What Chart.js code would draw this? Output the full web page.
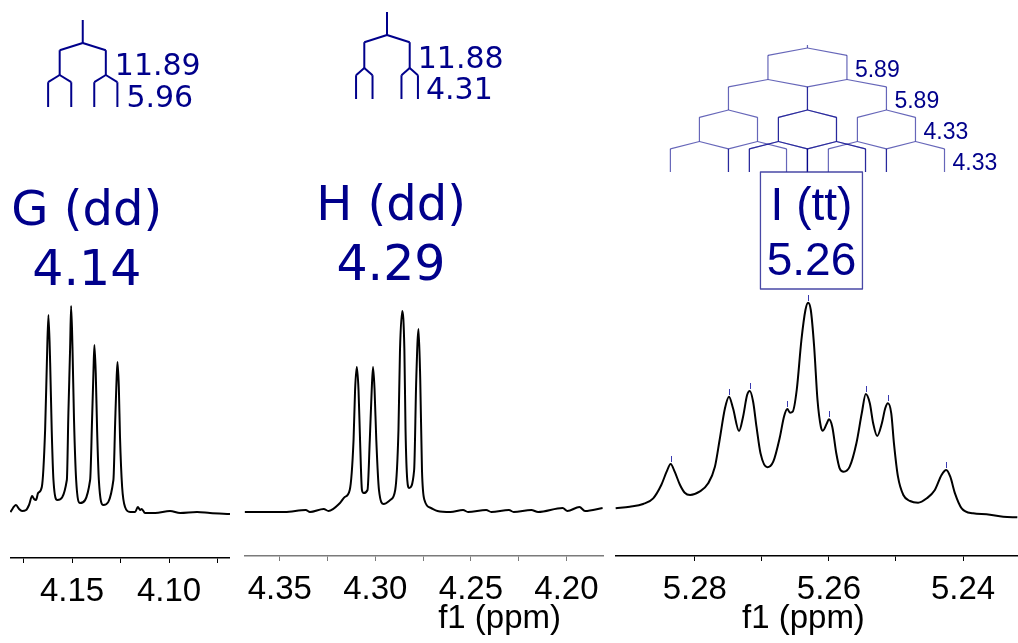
<!DOCTYPE html>
<html>
<head>
<meta charset="utf-8">
<style>
html, body { margin: 0; padding: 0; background: #fff; }
#wrap { position: relative; width: 1018px; height: 643px; overflow: hidden; }
#wrap canvas { position: absolute; top: 0; }
</style>
<script src="https://cdn.jsdelivr.net/npm/chart.js@4/dist/chart.umd.min.js"></script>
</head>
<body>
<div id="wrap">
  <canvas id="panelG" width="220" height="643" style="left:10px"></canvas>
  <canvas id="panelH" width="368" height="643" style="left:239px"></canvas>
  <canvas id="panelI" width="403" height="643" style="left:615px"></canvas>
</div>
<script>
// spectrometer frequency (MHz), used to turn J (Hz) into ppm
const MHZ = 500;

// G (dd) - 4.14 ppm
const gPpm = [4.1818, 4.1789, 4.1773, 4.1758, 4.1737, 4.1722, 4.1706, 4.1696, 4.1686, 4.1675,
  4.1656, 4.1639, 4.1630, 4.1622, 4.1613, 4.1605, 4.1596, 4.1576, 4.1527, 4.1519,
  4.1510, 4.1505, 4.1498, 4.1490, 4.1479, 4.1459, 4.1407, 4.1397, 4.1390, 4.1385,
  4.1378, 4.1371, 4.1362, 4.1339, 4.1287, 4.1278, 4.1272, 4.1266, 4.1259, 4.1253,
  4.1242, 4.1227, 4.1201, 4.1175, 4.1161, 4.1149, 4.1141, 4.1124, 4.1072, 4.0995,
  4.0943, 4.0856, 4.0789, 4.0686];
const gInt = [1, 8, 4, 2, 3, 8, 17, 14, 13, 20,
  26, 83, 150, 198, 150, 83, 33, 13, 33, 100,
  166, 207, 166, 93, 33, 10, 33, 93, 140, 168,
  140, 83, 33, 8, 33, 90, 126, 151, 126, 76,
  26, 6, 1, 1, 6, 3, 4, 0, 0, 2,
  0, 1, 0, -1];
const gTicks = [4.175, 4.15, 4.125, 4.10, 4.075];
const gTickLabels = ['4.15', '4.10'];
const gCenter = 4.1445;
const gJ = [11.89, 5.96];

// H (dd) - 4.29 ppm
const hPpm = [4.3684, 4.3577, 4.3474, 4.3364, 4.3342, 4.3270, 4.3245, 4.3185, 4.3160, 4.3134,
  4.3114, 4.3106, 4.3097, 4.3088, 4.3080, 4.3070, 4.3061, 4.3041, 4.3029, 4.3019,
  4.3012, 4.3004, 4.2995, 4.2981, 4.2956, 4.2922, 4.2896, 4.2879, 4.2871, 4.2859,
  4.2848, 4.2842, 4.2833, 4.2823, 4.2797, 4.2786, 4.2774, 4.2765, 4.2756, 4.2743,
  4.2709, 4.2675, 4.2607, 4.2541, 4.2515, 4.2420, 4.2393, 4.2301, 4.2276, 4.2184,
  4.2148, 4.2020, 4.1995, 4.1932, 4.1903, 4.1811];
const hInt = [0, 0, 0, 2, 0, 3, 1, 9, 15, 22,
  72, 122, 145, 122, 72, 22, 19, 22, 72, 122,
  145, 122, 72, 22, 8, 12, 22, 82, 162, 201,
  162, 82, 32, 24, 42, 132, 183, 132, 42, 12,
  4, 1, 0, 2, 0, 2, 0, 2, 0, 2,
  0, 4, 1, 5, 1, 4];
const hTicks = [4.35, 4.325, 4.30, 4.275, 4.25, 4.225, 4.20];
const hTickLabels = ['4.35', '4.30', '4.25', '4.20'];
const hCenter = 4.2939;
const hJ = [11.88, 4.31];

// I (tt) - 5.26 ppm
const iPpm = [5.2918, 5.2897, 5.2877, 5.2862, 5.2850, 5.2842, 5.2836, 5.2830, 5.2822, 5.2815,
  5.2807, 5.2793, 5.2780, 5.2770, 5.2763, 5.2755, 5.2749, 5.2743, 5.2734, 5.2728,
  5.2722, 5.2718, 5.2713, 5.2708, 5.2702, 5.2692, 5.2683, 5.2673, 5.2667, 5.2662,
  5.2658, 5.2654, 5.2648, 5.2641, 5.2635, 5.2631, 5.2627, 5.2622, 5.2617, 5.2612,
  5.2609, 5.2603, 5.2600, 5.2595, 5.2589, 5.2584, 5.2578, 5.2569, 5.2559, 5.2551,
  5.2545, 5.2539, 5.2534, 5.2528, 5.2521, 5.2516, 5.2512, 5.2507, 5.2503, 5.2497,
  5.2489, 5.2479, 5.2467, 5.2454, 5.2442, 5.2432, 5.2425, 5.2419, 5.2412, 5.2402,
  5.2385, 5.2365, 5.2340, 5.2319];
const iInt = [9.7, 11.3, 14, 19.7, 33, 46.3, 54, 46.3, 33, 25.3,
  23, 26.3, 34.7, 51.3, 78, 109.7, 121.3, 109.7, 87, 101.3,
  123, 127, 116.3, 91.3, 64.7, 50.7, 56.3, 81.3, 101.3, 109,
  105.3, 106.3, 128, 178, 208, 215.3, 208, 171.3, 118, 91.3,
  87.3, 94.7, 98.7, 91.3, 64.7, 49.7, 46.3, 51.3, 74.7, 104.7,
  124, 114.7, 94.7, 82, 94.7, 109.7, 114.7, 104.7, 74.7, 41.3,
  23, 17, 15.3, 19.7, 28, 43, 48, 41.3, 24.7, 9.7,
  4.7, 3.7, 1.3, 0.7];
const iPickPpm = [5.2836, 5.2749, 5.2718, 5.2662, 5.2631, 5.2600, 5.2545, 5.2512, 5.2425];
const iPickInt = [54, 121, 127, 109, 215, 99, 124, 115, 48];
const iTicks = [5.28, 5.27, 5.26, 5.25, 5.24];
const iTickLabels = ['5.28', '5.26', '5.24'];
const iCenter = 5.2632;
const iJ = [5.89, 5.89, 4.33, 4.33];

const NAVY = '#00008b';
const SANS = '"Liberation Sans", Arial, sans-serif';
const DEJAVU = '"DejaVu Sans", sans-serif';

function drawTree(ctx, xs, t) {
  const px = v => xs.getPixelForValue(v);
  const seg = (x1, y1, x2, y2) => {
    ctx.beginPath();
    ctx.moveTo(px(x1), y1);
    ctx.lineTo(px(x2), y2);
    ctx.stroke();
  };
  ctx.strokeStyle = t.color;
  ctx.lineWidth = t.width;
  ctx.lineJoin = 'round';
  ctx.fillStyle = NAVY;
  ctx.font = t.font;
  ctx.textAlign = 'left';
  ctx.textBaseline = 'alphabetic';
  let nodes = [t.center];
  let y = t.top;
  t.couplings.forEach((J, i) => {
    const sy = t.splits[i];
    const cy = sy + t.dy;
    const kids = [];
    nodes.forEach(n => {
      seg(n, y, n, sy);
      [1, -1].forEach(s => {
        const c = n + s * J / MHZ / 2;
        seg(n, sy, c, cy);
        kids.push(c);
      });
    });
    nodes = kids;
    y = cy;
    const end = i + 1 < t.splits.length ? t.splits[i + 1] : t.bottom;
    const rx = Math.max(...kids.map(px));
    ctx.fillText(J.toFixed(2), rx + t.gap, end - t.lift);
  });
  nodes.forEach(n => seg(n, y, n, t.bottom));
}

function nmrPlugin(ann) {
  return {
    id: 'nmr',
    afterDatasetsDraw(chart) {
      const ctx = chart.ctx;
      const xs = chart.scales.x;
      const ys = chart.scales.y;
      ctx.save();
      drawTree(ctx, xs, ann.tree);

      const cx = xs.getPixelForValue(ann.tree.center) + 4;
      ctx.fillStyle = NAVY;
      ctx.textAlign = 'center';
      ctx.textBaseline = 'alphabetic';
      ctx.font = ann.nameFont;
      ctx.fillText(ann.name, cx, ann.nameBase);
      ctx.font = ann.shiftFont;
      ctx.fillText(ann.shift, cx, ann.shiftBase);

      if (ann.box) {
        ctx.strokeStyle = 'rgba(40,40,150,0.85)';
        ctx.lineWidth = 1.3;
        ctx.strokeRect(cx - 51, ann.box[0], 102, ann.box[1] - ann.box[0]);
      }

      if (ann.picks) {
        ctx.strokeStyle = '#3a3ab0';
        ctx.lineWidth = 1;
        ann.picks[0].forEach((p, k) => {
          const x = Math.round(xs.getPixelForValue(p)) + 0.5;
          const y = ys.getPixelForValue(ann.picks[1][k]);
          ctx.beginPath();
          ctx.moveTo(x, y - 2);
          ctx.lineTo(x, y - 8);
          ctx.stroke();
        });
      }

      if (ann.titleAt) {
        ctx.fillStyle = '#000';
        ctx.font = '33px ' + SANS;
        ctx.textAlign = 'center';
        ctx.fillText('f1 (ppm)', xs.getPixelForValue(ann.titleAt), 628);
      }
      ctx.restore();
    }
  };
}

function makePanel(id, cfg) {
  return new Chart(document.getElementById(id), {
    type: 'line',
    data: {
      datasets: [{
        data: cfg.ppm.map((x, i) => ({ x: x, y: cfg.int[i] })),
        borderColor: '#000',
        borderWidth: 2,
        pointRadius: 0,
        cubicInterpolationMode: 'monotone',
        fill: false
      }]
    },
    options: {
      responsive: false,
      animation: false,
      devicePixelRatio: 1,
      layout: { padding: 0 },
      plugins: { legend: { display: false }, tooltip: { enabled: false } },
      scales: {
        x: {
          type: 'linear',
          reverse: true,
          min: cfg.xMin,
          max: cfg.xMax,
          afterBuildTicks: s => { s.ticks = cfg.ticks.map(v => ({ value: v })); },
          afterFit: s => { s.height = cfg.axisH; },
          ticks: {
            autoSkip: false,
            maxRotation: 0,
            minRotation: 0,
            padding: 9,
            color: '#000',
            font: { family: SANS, size: 33 },
            callback: v => cfg.labels.includes(v.toFixed(2)) ? v.toFixed(2) : ''
          },
          grid: { drawOnChartArea: false, drawTicks: true, tickLength: 5, color: cfg.axisColor, lineWidth: 1 },
          border: { display: true, color: cfg.axisColor, width: 1.5 }
        },
        y: { display: false, min: cfg.yMin, max: cfg.yMax }
      }
    },
    plugins: [nmrPlugin(cfg.ann)]
  });
}

makePanel('panelG', {
  ppm: gPpm, int: gInt, ticks: gTicks, labels: gTickLabels,
  xMin: 4.0686, xMax: 4.1820, yMin: -45, yMax: 513, axisH: 85, axisColor: '#000',
  ann: {
    tree: { center: gCenter, couplings: gJ, top: 20, splits: [43, 75], dy: 7.2, bottom: 107,
      color: NAVY, width: 2, font: '30px ' + DEJAVU, gap: 9, lift: 0 },
    name: 'G (dd)', shift: '4.14',
    nameFont: '48px ' + DEJAVU, nameBase: 225,
    shiftFont: '49px ' + DEJAVU, shiftBase: 285
  }
});

makePanel('panelH', {
  ppm: hPpm, int: hInt, ticks: hTicks, labels: hTickLabels,
  xMin: 4.1806, xMax: 4.3684, yMin: -44, yMax: 512, axisH: 87, axisColor: '#7a7a7a',
  ann: {
    tree: { center: hCenter, couplings: hJ, top: 12, splits: [35, 68], dy: 7.2, bottom: 99,
      color: NAVY, width: 2, font: '30px ' + DEJAVU, gap: 8, lift: 0.5 },
    name: 'H (dd)', shift: '4.29',
    nameFont: '48px ' + DEJAVU, nameBase: 219.5,
    shiftFont: '49px ' + DEJAVU, shiftBase: 280,
    titleAt: 4.235
  }
});

makePanel('panelI', {
  ppm: iPpm, int: iInt, ticks: iTicks, labels: iTickLabels,
  xMin: 5.2318, xMax: 5.2919, yMin: -38, yMax: 518, axisH: 87, axisColor: '#000',
  ann: {
    tree: { center: iCenter, couplings: iJ, top: 45, splits: [48, 79.5, 110, 141.5], dy: 7.3, bottom: 172,
      color: 'rgba(0,0,139,0.6)', width: 1.2, font: '23px ' + SANS, gap: 8, lift: 2.5 },
    name: 'I (tt)', shift: '5.26',
    nameFont: '46px ' + SANS, nameBase: 220,
    shiftFont: '46px ' + SANS, shiftBase: 275,
    box: [172, 289],
    picks: [iPickPpm, iPickInt],
    titleAt: 5.2638
  }
});
</script>
</body>
</html>
